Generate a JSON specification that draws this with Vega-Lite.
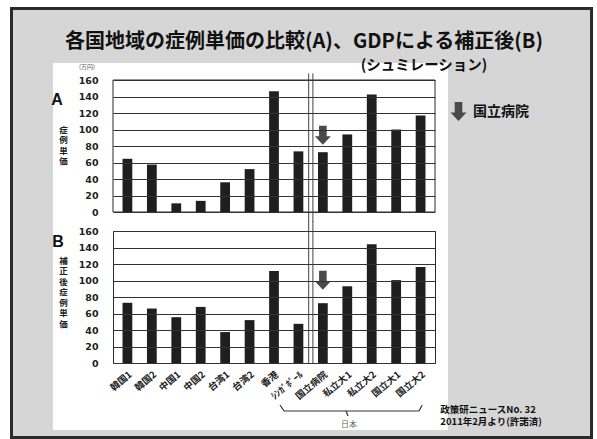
{
  "$schema": "https://vega.github.io/schema/vega-lite/v6.json",
  "background": "#ffffff",
  "padding": {"left": 9, "top": 6, "right": 5, "bottom": 1},
  "bounds": "flush",
  "spacing": 19,
  "config": {
    "font": "Noto Sans CJK JP",
    "view": {"stroke": "#2a2a2a", "strokeWidth": 1},
    "axisY": {"tickCount": 12}
  },
  "data": {"values": [
    {"cat": "韓国1", "A": 64.5, "B": 73},
    {"cat": "韓国2", "A": 57.5, "B": 66},
    {"cat": "中国1", "A": 10.5, "B": 55.5},
    {"cat": "中国2", "A": 13.5, "B": 68},
    {"cat": "台湾1", "A": 36, "B": 37.5},
    {"cat": "台湾2", "A": 52, "B": 52},
    {"cat": "香港", "A": 146.5, "B": 111.5},
    {"cat": "ｼﾝｶﾞﾎﾟｰﾙ", "A": 73.5, "B": 47.5},
    {"cat": "国立病院", "A": 72.5, "B": 72.5},
    {"cat": "私立大1", "A": 94, "B": 93},
    {"cat": "私立大2", "A": 142.5, "B": 144},
    {"cat": "国立大1", "A": 100, "B": 100.5},
    {"cat": "国立大2", "A": 117, "B": 116.5}
  ]},
  "vconcat": [
    {
      "width": 322,
      "height": 132,
      "layer": [
        {
          "data": {"values": [{"t": "frame"}]},
          "mark": {"type": "rect", "fill": "#d6d6d6", "stroke": "#2b2b2b", "strokeWidth": 3},
          "encoding": {
            "x": {"datum": "韓国1", "type": "nominal", "bandPosition": -11.3619, "scale": {"type": "band", "domain": ["韓国1","韓国2","中国1","中国2","台湾1","台湾2","香港","ｼﾝｶﾞﾎﾟｰﾙ","国立病院","私立大1","私立大2","国立大1","国立大2"], "paddingInner": 0.6, "paddingOuter": 0.39}, "axis": null},
            "x2": {"datum": "韓国1", "bandPosition": 47.9914},
            "y": {"datum": 246.667, "type": "quantitative", "scale": {"domain": [0, 160], "nice": false}},
            "y2": {"datum": -273.333}
          }
        },
        {
          "data": {"values": [{"t": "panel"}]},
          "mark": {"type": "rect", "fill": "#ffffff"},
          "encoding": {
            "x": {"datum": "韓国1", "type": "nominal", "bandPosition": -7.115, "scale": {"type": "band", "domain": ["韓国1","韓国2","中国1","中国2","台湾1","台湾2","香港","ｼﾝｶﾞﾎﾟｰﾙ","国立病院","私立大1","私立大2","国立大1","国立大2"], "paddingInner": 0.6, "paddingOuter": 0.39}, "axis": null},
            "x2": {"datum": "韓国1", "bandPosition": 33.3066},
            "y": {"datum": 180.606, "type": "quantitative", "scale": {"domain": [0, 160], "nice": false}},
            "y2": {"datum": -264.242}
          }
        },
        {
          "data": {"values": [{"t": "plot border"}]},
          "mark": {"type": "rect", "fill": null, "stroke": "#2a2a2a", "strokeWidth": 1},
          "encoding": {
            "x": {"datum": "韓国1", "type": "nominal", "bandPosition": -0.97503, "scale": {"type": "band", "domain": ["韓国1","韓国2","中国1","中国2","台湾1","台湾2","香港","ｼﾝｶﾞﾎﾟｰﾙ","国立病院","私立大1","私立大2","国立大1","国立大2"], "paddingInner": 0.6, "paddingOuter": 0.39}, "axis": null},
            "x2": {"datum": "韓国1", "bandPosition": 31.9763},
            "y": {"datum": 0, "type": "quantitative", "scale": {"domain": [0, 160], "nice": false}},
            "y2": {"datum": 160}
          }
        },
        {
          "data": {"values": [{"t": "各国地域の症例単価の比較(A)、GDPによる補正後(B)"}]},
          "mark": {"type": "text", "align": "center", "baseline": "middle", "fontSize": 20, "fontWeight": "bold", "color": "#111111"},
          "encoding": {
            "x": {"datum": "韓国1", "type": "nominal", "bandPosition": 18.5706, "scale": {"type": "band", "domain": ["韓国1","韓国2","中国1","中国2","台湾1","台湾2","香港","ｼﾝｶﾞﾎﾟｰﾙ","国立病院","私立大1","私立大2","国立大1","国立大2"], "paddingInner": 0.6, "paddingOuter": 0.39}, "axis": null},
            "y": {"datum": 206.061, "type": "quantitative", "scale": {"domain": [0, 160], "nice": false}},
            "text": {"field": "t"}
          }
        },
        {
          "data": {"values": [{"t": "(シュミレーション)"}]},
          "mark": {"type": "text", "align": "center", "baseline": "middle", "fontSize": 14.5, "fontWeight": "bold", "color": "#111111"},
          "encoding": {
            "x": {"datum": "韓国1", "type": "nominal", "bandPosition": 30.8506, "scale": {"type": "band", "domain": ["韓国1","韓国2","中国1","中国2","台湾1","台湾2","香港","ｼﾝｶﾞﾎﾟｰﾙ","国立病院","私立大1","私立大2","国立大1","国立大2"], "paddingInner": 0.6, "paddingOuter": 0.39}, "axis": null},
            "y": {"datum": 177.3, "type": "quantitative", "scale": {"domain": [0, 160], "nice": false}},
            "text": {"field": "t"}
          }
        },
        {
          "data": {"values": [{"t": "A"}]},
          "mark": {"type": "text", "align": "center", "baseline": "middle", "fontSize": 16, "fontWeight": "bold", "font": "Liberation Sans", "color": "#111111"},
          "encoding": {
            "x": {"datum": "韓国1", "type": "nominal", "bandPosition": -6.7057, "scale": {"type": "band", "domain": ["韓国1","韓国2","中国1","中国2","台湾1","台湾2","香港","ｼﾝｶﾞﾎﾟｰﾙ","国立病院","私立大1","私立大2","国立大1","国立大2"], "paddingInner": 0.6, "paddingOuter": 0.39}, "axis": null},
            "y": {"datum": 135.758, "type": "quantitative", "scale": {"domain": [0, 160], "nice": false}},
            "text": {"field": "t"}
          }
        },
        {
          "data": {"values": [{"t": "(万円)"}]},
          "mark": {"type": "text", "align": "center", "baseline": "middle", "fontSize": 6, "color": "#555555"},
          "encoding": {
            "x": {"datum": "韓国1", "type": "nominal", "bandPosition": -3.6357, "scale": {"type": "band", "domain": ["韓国1","韓国2","中国1","中国2","台湾1","台湾2","香港","ｼﾝｶﾞﾎﾟｰﾙ","国立病院","私立大1","私立大2","国立大1","国立大2"], "paddingInner": 0.6, "paddingOuter": 0.39}, "axis": null},
            "y": {"datum": 175.758, "type": "quantitative", "scale": {"domain": [0, 160], "nice": false}},
            "text": {"field": "t"}
          }
        },
        {
          "mark": {"type": "bar", "color": "#1f1f1f"},
          "encoding": {
            "x": {"field": "cat", "type": "nominal", "sort": null, "scale": {"type": "band", "domain": ["韓国1","韓国2","中国1","中国2","台湾1","台湾2","香港","ｼﾝｶﾞﾎﾟｰﾙ","国立病院","私立大1","私立大2","国立大1","国立大2"], "paddingInner": 0.6, "paddingOuter": 0.39}, "axis": null},
            "y": {"field": "A", "type": "quantitative", "scale": {"domain": [0, 160], "nice": false},
              "axis": {"zindex": 1, "values": [0,20,40,60,80,100,120,140,160], "tickCount": 12, "labelOverlap": false, "grid": true, "gridColor": "#333333", "gridWidth": 1, "ticks": false, "domain": false, "labelPadding": 15, "labelFont": "DejaVu Sans", "labelFontSize": 9.5, "labelFontWeight": "bold", "labelColor": "#222222",
                "title": ["症","例","単","価"], "titleAngle": 0, "titleX": -50, "titleY": 45, "titleAlign": "center", "titleBaseline": "top", "titleFontSize": 8.5, "titleFontWeight": "bold", "titleLineHeight": 10.5, "titleColor": "#222222"}}
          }
        },
        {
          "transform": [{"filter": "datum.cat === '国立病院'"}],
          "mark": {"type": "point", "filled": true, "color": "#4a4a4a", "opacity": 1, "size": 361, "strokeWidth": 0},
          "encoding": {
            "x": {"field": "cat", "type": "nominal", "sort": null, "scale": {"type": "band", "domain": ["韓国1","韓国2","中国1","中国2","台湾1","台湾2","香港","ｼﾝｶﾞﾎﾟｰﾙ","国立病院","私立大1","私立大2","国立大1","国立大2"], "paddingInner": 0.6, "paddingOuter": 0.39}, "axis": null},
            "y": {"field": "A", "type": "quantitative", "scale": {"domain": [0, 160], "nice": false}},
            "yOffset": {"value": -17},
            "shape": {"field": "cat", "type": "nominal", "scale": {"range": ["M-0.4,-1L0.4,-1L0.4,0.1L0.84,0.1L0,1L-0.84,0.1L-0.4,0.1Z"]},
              "legend": {"orient": "none", "legendX": 336, "legendY": 22, "title": null, "padding": 0, "labelFontSize": 14, "labelFontWeight": "bold", "labelColor": "#111111", "symbolSize": 361, "symbolFillColor": "#4a4a4a", "symbolStrokeWidth": 0, "labelOffset": 5}}
          }
        },
        {
          "data": {"values": [{"t": "sep1"}]},
          "mark": {"type": "rule", "color": "#444444", "strokeWidth": 1},
          "encoding": {
            "x": {"datum": "ｼﾝｶﾞﾎﾟｰﾙ", "type": "nominal", "bandPosition": 1.55, "scale": {"type": "band", "domain": ["韓国1","韓国2","中国1","中国2","台湾1","台湾2","香港","ｼﾝｶﾞﾎﾟｰﾙ","国立病院","私立大1","私立大2","国立大1","国立大2"], "paddingInner": 0.6, "paddingOuter": 0.39}, "axis": null},
            "y": {"datum": -12, "type": "quantitative", "scale": {"domain": [0, 160], "nice": false}},
            "y2": {"datum": 168}
          }
        },
        {
          "data": {"values": [{"t": "sep2"}]},
          "mark": {"type": "rule", "color": "#444444", "strokeWidth": 1},
          "encoding": {
            "x": {"datum": "ｼﾝｶﾞﾎﾟｰﾙ", "type": "nominal", "bandPosition": 1.98, "scale": {"type": "band", "domain": ["韓国1","韓国2","中国1","中国2","台湾1","台湾2","香港","ｼﾝｶﾞﾎﾟｰﾙ","国立病院","私立大1","私立大2","国立大1","国立大2"], "paddingInner": 0.6, "paddingOuter": 0.39}, "axis": null},
            "y": {"datum": -12, "type": "quantitative", "scale": {"domain": [0, 160], "nice": false}},
            "y2": {"datum": 168}
          }
        }
      ]
    },
    {
      "width": 322,
      "height": 132,
      "layer": [
        {
          "data": {"values": [{"t": "B"}]},
          "mark": {"type": "text", "align": "center", "baseline": "middle", "fontSize": 16, "fontWeight": "bold", "font": "Liberation Sans", "color": "#111111"},
          "encoding": {
            "x": {"datum": "韓国1", "type": "nominal", "bandPosition": -6.6034, "scale": {"type": "band", "domain": ["韓国1","韓国2","中国1","中国2","台湾1","台湾2","香港","ｼﾝｶﾞﾎﾟｰﾙ","国立病院","私立大1","私立大2","国立大1","国立大2"], "paddingInner": 0.6, "paddingOuter": 0.39}},
            "y": {"datum": 146.667, "type": "quantitative", "scale": {"domain": [0, 160], "nice": false}},
            "text": {"field": "t"}
          }
        },
        {
          "data": {"values": [{"t": "政策研ニュースNo. 32\n2011年2月より(許諾済)"}]},
          "mark": {"type": "text", "align": "left", "baseline": "top", "fontSize": 9.5, "fontWeight": "bold", "lineBreak": "\n", "lineHeight": 12, "color": "#111111"},
          "encoding": {
            "x": {"datum": "韓国1", "type": "nominal", "bandPosition": 32.5186, "scale": {"type": "band", "domain": ["韓国1","韓国2","中国1","中国2","台湾1","台湾2","香港","ｼﾝｶﾞﾎﾟｰﾙ","国立病院","私立大1","私立大2","国立大1","国立大2"], "paddingInner": 0.6, "paddingOuter": 0.39}},
            "y": {"datum": -51, "type": "quantitative", "scale": {"domain": [0, 160], "nice": false}},
            "text": {"field": "t"}
          }
        },
        {
          "data": {"values": [{"t": "日本"}]},
          "mark": {"type": "text", "align": "center", "baseline": "middle", "fontSize": 8, "color": "#666666"},
          "encoding": {
            "x": {"datum": "韓国1", "type": "nominal", "bandPosition": 23.1756, "scale": {"type": "band", "domain": ["韓国1","韓国2","中国1","中国2","台湾1","台湾2","香港","ｼﾝｶﾞﾎﾟｰﾙ","国立病院","私立大1","私立大2","国立大1","国立大2"], "paddingInner": 0.6, "paddingOuter": 0.39}},
            "y": {"datum": -75.152, "type": "quantitative", "scale": {"domain": [0, 160], "nice": false}},
            "text": {"field": "t"}
          }
        },
        {
          "data": {"values": [{"t": "brace"}]},
          "mark": {"type": "rule", "color": "#333333", "strokeWidth": 1.2},
          "encoding": {
            "x": {"datum": "韓国1", "type": "nominal", "bandPosition": 16.524, "scale": {"type": "band", "domain": ["韓国1","韓国2","中国1","中国2","台湾1","台湾2","香港","ｼﾝｶﾞﾎﾟｰﾙ","国立病院","私立大1","私立大2","国立大1","国立大2"], "paddingInner": 0.6, "paddingOuter": 0.39}},
            "x2": {"datum": "韓国1", "bandPosition": 30.3397},
            "y": {"datum": -58.182, "type": "quantitative", "scale": {"domain": [0, 160], "nice": false}},
            "y2": {"datum": -58.182}
          }
        },
        {
          "data": {"values": [{"t": "brace-left"}]},
          "mark": {"type": "rule", "color": "#333333", "strokeWidth": 1.2},
          "encoding": {
            "x": {"datum": "韓国1", "type": "nominal", "bandPosition": 16.524, "scale": {"type": "band", "domain": ["韓国1","韓国2","中国1","中国2","台湾1","台湾2","香港","ｼﾝｶﾞﾎﾟｰﾙ","国立病院","私立大1","私立大2","国立大1","国立大2"], "paddingInner": 0.6, "paddingOuter": 0.39}},
            "x2": {"datum": "韓国1", "bandPosition": 16.1147},
            "y": {"datum": -58.182, "type": "quantitative", "scale": {"domain": [0, 160], "nice": false}},
            "y2": {"datum": -50.909}
          }
        },
        {
          "data": {"values": [{"t": "brace-right"}]},
          "mark": {"type": "rule", "color": "#333333", "strokeWidth": 1.2},
          "encoding": {
            "x": {"datum": "韓国1", "type": "nominal", "bandPosition": 30.3397, "scale": {"type": "band", "domain": ["韓国1","韓国2","中国1","中国2","台湾1","台湾2","香港","ｼﾝｶﾞﾎﾟｰﾙ","国立病院","私立大1","私立大2","国立大1","国立大2"], "paddingInner": 0.6, "paddingOuter": 0.39}},
            "x2": {"datum": "韓国1", "bandPosition": 30.661},
            "y": {"datum": -58.182, "type": "quantitative", "scale": {"domain": [0, 160], "nice": false}},
            "y2": {"datum": -50.909}
          }
        },
        {
          "data": {"values": [{"t": "brace-tip"}]},
          "mark": {"type": "rule", "color": "#333333", "strokeWidth": 1.2},
          "encoding": {
            "x": {"datum": "韓国1", "type": "nominal", "bandPosition": 22.8698, "scale": {"type": "band", "domain": ["韓国1","韓国2","中国1","中国2","台湾1","台湾2","香港","ｼﾝｶﾞﾎﾟｰﾙ","国立病院","私立大1","私立大2","国立大1","国立大2"], "paddingInner": 0.6, "paddingOuter": 0.39}},
            "x2": {"datum": "韓国1", "bandPosition": 23.0745},
            "y": {"datum": -58.182, "type": "quantitative", "scale": {"domain": [0, 160], "nice": false}},
            "y2": {"datum": -64.242}
          }
        },
        {
          "mark": {"type": "bar", "color": "#1f1f1f"},
          "encoding": {
            "x": {"field": "cat", "type": "nominal", "sort": null, "scale": {"type": "band", "domain": ["韓国1","韓国2","中国1","中国2","台湾1","台湾2","香港","ｼﾝｶﾞﾎﾟｰﾙ","国立病院","私立大1","私立大2","国立大1","国立大2"], "paddingInner": 0.6, "paddingOuter": 0.39},
              "axis": {"zindex": 1, "labelAngle": -40, "labelAlign": "right", "labelBaseline": "top", "labelFontSize": 9.5, "labelFontWeight": "bold", "labelColor": "#222222", "ticks": false, "domain": false, "grid": false, "labelPadding": 6, "title": null}},
            "y": {"field": "B", "type": "quantitative", "scale": {"domain": [0, 160], "nice": false},
              "axis": {"zindex": 1, "values": [0,20,40,60,80,100,120,140,160], "tickCount": 12, "labelOverlap": false, "grid": true, "gridColor": "#333333", "gridWidth": 1, "ticks": false, "domain": false, "labelPadding": 15, "labelFont": "DejaVu Sans", "labelFontSize": 9.5, "labelFontWeight": "bold", "labelColor": "#222222",
                "title": ["補","正","後"," ","症","例","単","価"], "titleAngle": 0, "titleX": -50, "titleY": 25, "titleAlign": "center", "titleBaseline": "top", "titleFontSize": 8.5, "titleFontWeight": "bold", "titleLineHeight": 10.5, "titleColor": "#222222"}}
          }
        },
        {
          "transform": [{"filter": "datum.cat === '国立病院'"}],
          "mark": {"type": "point", "filled": true, "color": "#4a4a4a", "opacity": 1, "size": 361, "strokeWidth": 0, "shape": "M-0.4,-1L0.4,-1L0.4,0.1L0.84,0.1L0,1L-0.84,0.1L-0.4,0.1Z"},
          "encoding": {
            "x": {"field": "cat", "type": "nominal", "sort": null, "scale": {"type": "band", "domain": ["韓国1","韓国2","中国1","中国2","台湾1","台湾2","香港","ｼﾝｶﾞﾎﾟｰﾙ","国立病院","私立大1","私立大2","国立大1","国立大2"], "paddingInner": 0.6, "paddingOuter": 0.39}},
            "y": {"field": "B", "type": "quantitative", "scale": {"domain": [0, 160], "nice": false}},
            "yOffset": {"value": -23}
          }
        },
        {
          "data": {"values": [{"t": "sep1"}]},
          "mark": {"type": "rule", "color": "#444444", "strokeWidth": 1},
          "encoding": {
            "x": {"datum": "ｼﾝｶﾞﾎﾟｰﾙ", "type": "nominal", "bandPosition": 1.55, "scale": {"type": "band", "domain": ["韓国1","韓国2","中国1","中国2","台湾1","台湾2","香港","ｼﾝｶﾞﾎﾟｰﾙ","国立病院","私立大1","私立大2","国立大1","国立大2"], "paddingInner": 0.6, "paddingOuter": 0.39}},
            "y": {"datum": 0, "type": "quantitative", "scale": {"domain": [0, 160], "nice": false}},
            "y2": {"datum": 172}
          }
        },
        {
          "data": {"values": [{"t": "sep2"}]},
          "mark": {"type": "rule", "color": "#444444", "strokeWidth": 1},
          "encoding": {
            "x": {"datum": "ｼﾝｶﾞﾎﾟｰﾙ", "type": "nominal", "bandPosition": 1.98, "scale": {"type": "band", "domain": ["韓国1","韓国2","中国1","中国2","台湾1","台湾2","香港","ｼﾝｶﾞﾎﾟｰﾙ","国立病院","私立大1","私立大2","国立大1","国立大2"], "paddingInner": 0.6, "paddingOuter": 0.39}},
            "y": {"datum": 0, "type": "quantitative", "scale": {"domain": [0, 160], "nice": false}},
            "y2": {"datum": 172}
          }
        }
      ]
    }
  ]
}
